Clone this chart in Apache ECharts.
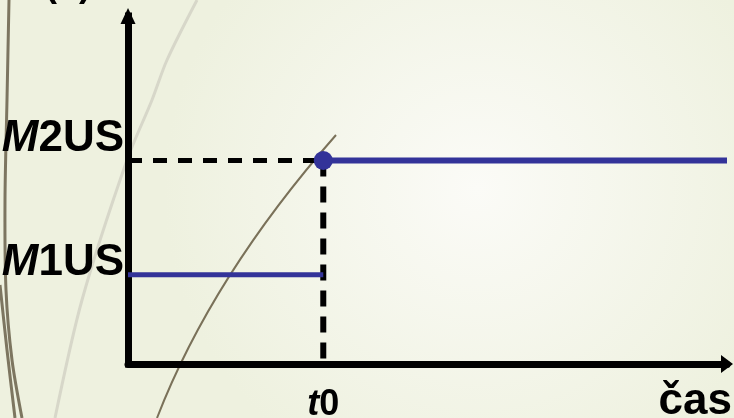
<!DOCTYPE html>
<html>
<head>
<meta charset="utf-8">
<script src="https://cdn.jsdelivr.net/npm/echarts@6/dist/echarts.min.js"></script>
<style>
  html, body { margin: 0; padding: 0; }
  #chart { width: 734px; height: 418px; }
</style>
</head>
<body>
<div id="chart"></div>
<script>
// levels and times
const t0 = 3.26;
const tEnd = 10;
const casPos = 9.47;
const m1Level = 1;
const m2Level = 2.28;
const xTickValues = [t0, casPos];
const xTickLabels = ["t0", "čas"];
const yTickValues = [m1Level, m2Level];
const yTickLabels = ["M1US", "M2US"];

const blue = "#333399";
const font = "'Liberation Sans Narrow', 'Liberation Sans', Arial, sans-serif";

const chart = echarts.init(document.getElementById("chart"));

// slide background strokes (decoration only)
const deco = [
  { pts: [[9, 0], [7, 100], [5, 200], [6, 290], [12, 360], [22, 418]], w: 3, c: "#7d7660" },
  { pts: [[0, 285], [7, 350], [15, 418]], w: 3, c: "#7d7660" },
  { pts: [[197, 0], [167, 60], [152, 100], [127, 160], [82, 300], [55, 418]], w: 3, c: "#d7d7c9" },
];

function richLabel(txt, key) {
  return "{i" + key + "|" + txt[0] + "}{n" + key + "|" + txt.slice(1) + "}";
}

chart.setOption({
  backgroundColor: new echarts.graphic.RadialGradient(0.65, 0.45, 0.75, [
    { offset: 0, color: "#fbfbf7" },
    { offset: 1, color: "#eef1df" },
  ]),
  animation: false,
  title: {
    text: "(b)",
    left: 40,
    top: -37,
    textStyle: { fontFamily: font, fontSize: 36, fontWeight: "bold", color: "#000" },
  },
  graphic: deco
    .map((d) => ({
      type: "polyline",
      z: -10,
      shape: { points: d.pts, smooth: 0.3 },
      style: { stroke: d.c, lineWidth: d.w, fill: null },
    }))
    .concat([
      {
        type: "bezierCurve",
        z: -10,
        shape: { x1: 336, y1: 135, x2: 157, y2: 418, cpx1: 212, cpy1: 276 },
        style: { stroke: "#7a7159", lineWidth: 2, fill: null },
      },
    ]),
  grid: { left: 128, right: 7, top: 16, bottom: 54, outerBoundsMode: "none", containLabel: false },
  xAxis: {
    type: "value",
    min: 0,
    max: tEnd,
    splitLine: { show: false },
    axisTick: { show: false },
    axisLine: {
      lineStyle: { color: "#000", width: 7 },
      symbol: ["none", "triangle"],
      symbolSize: [18, 12],
    },
    axisLabel: {
      customValues: xTickValues,
      margin: 16,
      hideOverlap: false,
      formatter: (v) => {
        const i = xTickValues.indexOf(v);
        return i === 0 ? "{ti|t}{tn|0}" : "{c|" + xTickLabels[i] + "}";
      },
      rich: {
        ti: { fontFamily: font, fontSize: 36, fontWeight: "bold", fontStyle: "italic", color: "#000", padding: [7, 0, 0, 0] },
        tn: { fontFamily: font, fontSize: 36, fontWeight: "bold", color: "#000", padding: [7, 0, 0, 0] },
        c: { fontFamily: font, fontSize: 44, fontWeight: "bold", color: "#000" },
      },
    },
  },
  yAxis: {
    type: "value",
    min: 0,
    max: 3.9,
    splitLine: { show: false },
    axisTick: { show: false },
    axisLine: {
      lineStyle: { color: "#000", width: 7, cap: "square" },
      symbol: ["none", "triangle"],
      symbolSize: [15, 16],
    },
    axisLabel: {
      customValues: yTickValues,
      margin: 4,
      formatter: (v) => {
        const i = yTickValues.indexOf(v);
        return richLabel(yTickLabels[i], i === 0 ? "a" : "b");
      },
      rich: {
        ia: { fontFamily: font, fontSize: 44, fontWeight: "bold", fontStyle: "italic", color: "#000", padding: [0, 0, 24, 0] },
        na: { fontFamily: font, fontSize: 44, fontWeight: "bold", color: "#000", padding: [0, 0, 24, 0] },
        ib: { fontFamily: font, fontSize: 44, fontWeight: "bold", fontStyle: "italic", color: "#000", padding: [0, 0, 44, 0] },
        nb: { fontFamily: font, fontSize: 44, fontWeight: "bold", color: "#000", padding: [0, 0, 44, 0] },
      },
    },
  },
  series: [
    {
      name: "guideH",
      type: "line",
      z: 1,
      symbol: "none",
      data: [[0, m2Level], [t0, m2Level]],
      lineStyle: { color: "#000", width: 5, type: [14, 11] },
    },
    {
      name: "guideV",
      type: "line",
      z: 1,
      symbol: "none",
      data: [[t0, m2Level], [t0, 0]],
      lineStyle: { color: "#000", width: 6, type: [16, 10] },
    },
    {
      name: "M1US",
      type: "line",
      z: 3,
      symbol: "none",
      data: [[0, m1Level], [t0, m1Level]],
      lineStyle: { color: blue, width: 5 },
    },
    {
      name: "M2US",
      type: "line",
      z: 3,
      symbol: "none",
      data: [[t0, m2Level], [tEnd, m2Level]],
      lineStyle: { color: blue, width: 6 },
    },
    {
      name: "jump",
      type: "scatter",
      z: 4,
      symbolSize: 19,
      itemStyle: { color: blue, opacity: 1 },
      data: [[t0, m2Level]],
    },
  ],
});
</script>
</body>
</html>
